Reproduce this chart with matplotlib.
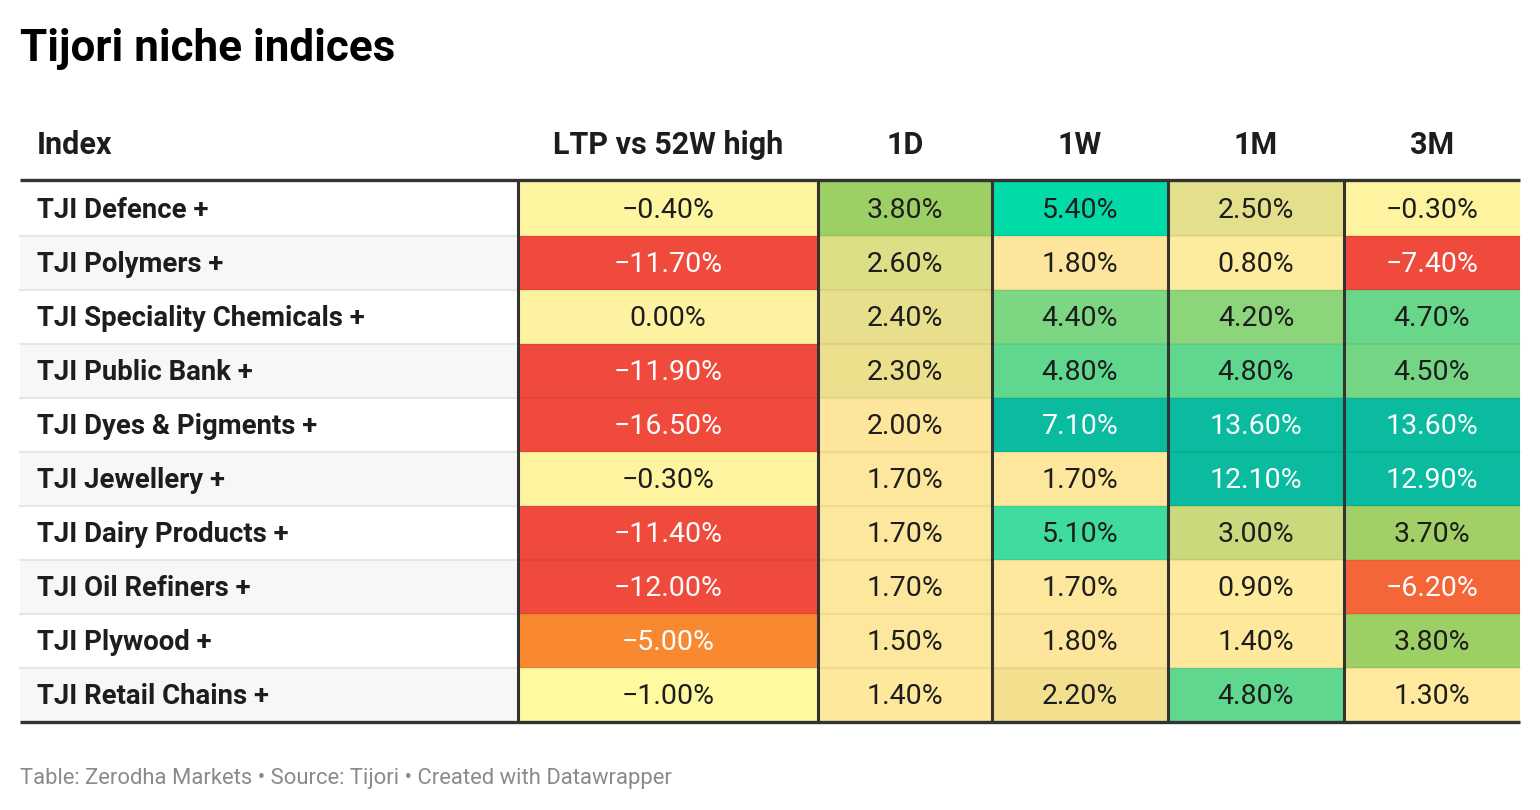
import numpy as np
import matplotlib
matplotlib.use("Agg")
import matplotlib.pyplot as plt
from matplotlib.colors import LinearSegmentedColormap, Normalize, to_rgb

plt.rcParams['font.family'] = ['Roboto', 'DejaVu Sans']

# table data
title = "Tijori niche indices"
footer = "Table: Zerodha Markets • Source: Tijori • Created with Datawrapper"
headers = ["Index", "LTP vs 52W high", "1D", "1W", "1M", "3M"]
names = ["TJI Defence +", "TJI Polymers +", "TJI Speciality Chemicals +", "TJI Public Bank +",
         "TJI Dyes & Pigments +", "TJI Jewellery +", "TJI Dairy Products +", "TJI Oil Refiners +",
         "TJI Plywood +", "TJI Retail Chains +"]
ltp = [-0.4, -11.7, 0.0, -11.9, -16.5, -0.3, -11.4, -12.0, -5.0, -1.0]
d1 = [3.8, 2.6, 2.4, 2.3, 2.0, 1.7, 1.7, 1.7, 1.5, 1.4]
w1 = [5.4, 1.8, 4.4, 4.8, 7.1, 1.7, 5.1, 1.7, 1.8, 2.2]
m1 = [2.5, 0.8, 4.2, 4.8, 13.6, 12.1, 3.0, 0.9, 1.4, 4.8]
m3 = [-0.3, -7.4, 4.7, 4.5, 13.6, 12.9, 3.7, -6.2, 3.8, 1.3]
columns = [ltp, d1, w1, m1, m3]

# colour scale (value stops -> colour), clipped at both ends
stops = [(-7.4, '#ef4a3c'), (-6.2, '#f46538'), (-5.0, '#f98931'), (-1.0, '#fffaa1'),
         (0.0, '#fdf2a0'), (1.0, '#feea9d'), (2.0, '#fde59b'), (2.2, '#f2e08f'),
         (2.5, '#e4df8a'), (3.0, '#c9d97b'), (3.8, '#9ccf64'), (4.2, '#8cd57b'),
         (4.8, '#62d78d'), (5.1, '#41db9c'), (5.4, '#00dba8'), (7.1, '#0abba0')]
vmin, vmax = stops[0][0], stops[-1][0]
cmap = LinearSegmentedColormap.from_list(
    "dw", [((v - vmin) / (vmax - vmin), c) for v, c in stops])
norm = Normalize(vmin, vmax, clip=True)

# layout in pixels
W, H = 1540, 810
left, right = 20, 1520
edges = [20, 518, 818, 992, 1168, 1344, 1520]
top = 182
row_h = 54
n = len(names)

fig = plt.figure(figsize=(W / 100, H / 100), dpi=100)
ax = fig.add_axes([0, 0, 1, 1])
ax.set_xlim(0, W)
ax.set_ylim(H, 0)
ax.axis('off')

rows = np.arange(n)
row_c = top + row_h * rows + row_h / 2

# index column with zebra stripes
ax.barh(row_c, edges[1] - edges[0], left=edges[0], height=row_h,
        color=['white' if i % 2 == 0 else '#f7f7f7' for i in rows], zorder=1)
for i, name in enumerate(names):
    ax.text(37, row_c[i] + 1, name, ha='left', va='center', fontsize=19.8,
            fontweight='bold', color='#1d1d1d', zorder=5)


def lum(c):
    r, g, b = [x / 12.92 if x <= 0.04045 else ((x + 0.055) / 1.055) ** 2.4 for x in to_rgb(c)]
    return 0.2126 * r + 0.7152 * g + 0.0722 * b


for j, vals in enumerate(columns):
    x0, x1 = edges[j + 1], edges[j + 2]
    cols = cmap(norm(np.array(vals)))
    ax.barh(row_c, x1 - x0, left=x0, height=row_h, color=cols, zorder=1)
    for i, v in enumerate(vals):
        txt = f"{v:.2f}%".replace('-', '\u2212')
        tc = 'white' if lum(cols[i]) < 0.45 else '#1d1d1d'
        ax.text((x0 + x1) / 2, row_c[i] + 1, txt, ha='center', va='center',
                fontsize=20.5, color=tc, zorder=5)

# row separators
for i in range(1, n):
    y = top + row_h * i
    ax.plot([edges[0], edges[1]], [y, y], color='#e6e6e6', lw=1.5, zorder=2)
    ax.plot([edges[1], right], [y, y], color='black', alpha=0.06, lw=1.5, zorder=2)

# column separators
for x in edges[1:-1]:
    ax.plot([x, x], [180, top + row_h * n], color='#333333', lw=2.2, zorder=3,
            solid_capstyle='butt')

# thick header / bottom rules
ax.plot([left, right], [180, 180], color='#333333', lw=2.4, zorder=4, solid_capstyle='butt')
ax.plot([left, right], [top + row_h * n, top + row_h * n], color='#333333', lw=2.4,
        zorder=4, solid_capstyle='butt')

# headers
ax.text(37, 154, headers[0], ha='left', va='baseline', fontsize=22,
        fontweight='bold', color='#1d1d1d')
for j, h in enumerate(headers[1:]):
    ax.text((edges[j + 1] + edges[j + 2]) / 2, 154, h, ha='center', va='baseline',
            fontsize=22, fontweight='bold', color='#1d1d1d')

ax.text(20, 61, title, ha='left', va='baseline', fontsize=31.7, fontweight='bold', color='black')
ax.text(20, 784, footer, ha='left', va='baseline', fontsize=15.8, color='#8a8a8a')

fig.savefig("out.png", dpi=100, facecolor='white')
